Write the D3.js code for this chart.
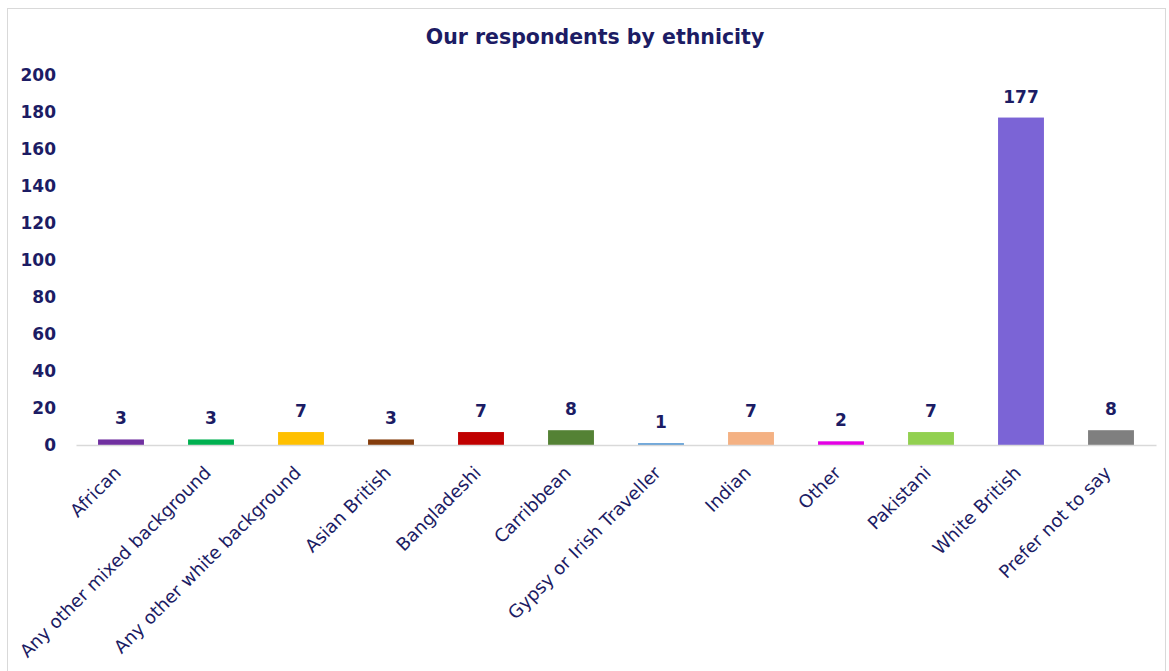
<!DOCTYPE html>
<html><head><meta charset="utf-8">
<script src="https://cdn.jsdelivr.net/npm/d3@7"></script>
<style>body{margin:0;background:#fff;}svg{display:block;}</style>
</head><body><svg id="chart" width="1169" height="671"></svg>
<script>
const categories = ["African","Any other mixed background","Any other white background","Asian British","Bangladeshi","Carribbean","Gypsy or Irish Traveller","Indian","Other","Pakistani","White British","Prefer not to say"];
const values = [3,3,7,3,7,8,1,7,2,7,177,8];
const colors = ["#7030a0","#00b050","#ffc000","#843c0c","#c00000","#548235","#5b9bd5","#f4b183","#e400e4","#92d050","#7b64d6","#7f7f7f"];
const yTicks = [0,20,40,60,80,100,120,140,160,180,200];
const title = "Our respondents by ethnicity";

const svg = d3.select("#chart");
const txt = "#1c1c64";
const font = "'DejaVu Sans', Verdana, sans-serif";

svg.append("rect").attr("x",7.5).attr("y",8.5).attr("width",1158).attr("height",700)
  .attr("fill","#fff").attr("stroke","#d9d9d9");

const x = d3.scaleBand().domain(categories).range([76,1156]).paddingInner(0.49).paddingOuter(0.245);
const y = d3.scaleLinear().domain([0,200]).range([445,75]);

svg.append("text").attr("x",595).attr("y",44).attr("text-anchor","middle")
  .attr("font-family",font).attr("font-weight","bold").attr("font-size",20.5).attr("fill",txt).text(title);

// y axis
const ya = svg.append("g").attr("transform","translate(56,0)")
  .call(d3.axisLeft(y).tickValues(yTicks).tickSize(0).tickPadding(0));
ya.select(".domain").remove();
ya.selectAll("text").attr("font-family",font).attr("font-weight","bold").attr("font-size",17).attr("fill",txt);

// bars
svg.selectAll("rect.bar").data(categories).join("rect").attr("class","bar")
  .attr("x",d=>x(d)).attr("width",x.bandwidth())
  .attr("y",(d,i)=>y(values[i])).attr("height",(d,i)=>y(0)-y(values[i]))
  .attr("fill",(d,i)=>colors[i]);

// baseline / x axis
const xa = svg.append("g").attr("transform",`translate(0,${y(0)})`)
  .call(d3.axisBottom(x).tickSize(0).tickPadding(0).tickSizeOuter(0));
xa.select(".domain").attr("stroke","#d9d9d9").attr("stroke-width",1.5);
xa.selectAll("text").attr("font-family",font).attr("font-size",18).attr("fill",txt)
  .attr("text-anchor","end").attr("dy",0)
  .attr("transform","translate(1,29) rotate(-45)");

// value labels
svg.selectAll("text.val").data(categories).join("text").attr("class","val")
  .attr("x",d=>x(d)+x.bandwidth()/2).attr("y",(d,i)=>y(values[i])-15)
  .attr("text-anchor","middle").attr("font-family",font).attr("font-weight","bold")
  .attr("font-size",17).attr("fill",txt).text((d,i)=>values[i]);
</script></body></html>
